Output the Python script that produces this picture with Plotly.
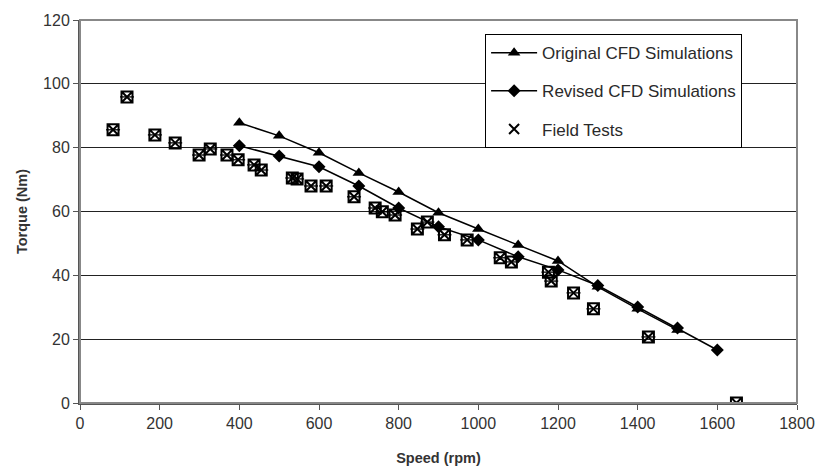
import plotly.graph_objects as go

orig_x = [400, 500, 600, 700, 800, 900, 1000, 1100, 1200, 1300, 1400, 1500]
orig_y = [87.8, 83.7, 78.4, 72.1, 66.1, 59.6, 54.5, 49.5, 44.5, 36.4, 29.5, 22.9]

rev_x = [400, 500, 600, 700, 800, 900, 1000, 1100, 1200, 1300, 1400, 1500, 1600]
rev_y = [80.6, 77.4, 74.0, 68.0, 61.1, 55.2, 51.1, 45.8, 41.7, 36.8, 30.1, 23.5, 16.6]

field_x = [83, 118, 188, 239, 299, 327, 369, 397, 437, 455, 533, 545, 580, 618, 688,
           741, 759, 791, 847, 872, 915, 972, 1055, 1083, 1176, 1183, 1239, 1289, 1427, 1648]
field_y = [85.6, 95.9, 84.0, 81.5, 77.7, 79.6, 77.7, 76.2, 74.6, 73.0, 70.5, 70.2, 68.0, 68.0, 64.6,
           61.1, 59.9, 58.9, 54.5, 56.7, 52.7, 51.1, 45.5, 44.2, 41.0, 38.2, 34.5, 29.5, 20.7, 0.0]

fig = go.Figure()
fig.add_trace(go.Scatter(x=orig_x, y=orig_y, mode="lines+markers", name="Original CFD Simulations",
                         legendgroup="a",
                         line=dict(color="black", width=1.5),
                         marker=dict(symbol="triangle-up", size=11, color="black")))
fig.add_trace(go.Scatter(x=rev_x, y=rev_y, mode="lines+markers", name="Revised CFD Simulations",
                         legendgroup="b",
                         line=dict(color="black", width=1.5),
                         marker=dict(symbol="diamond", size=10, color="black")))
fig.add_trace(go.Scatter(x=field_x, y=field_y, mode="markers", name="Field Tests", showlegend=False,
                         marker=dict(symbol="square-x-open", size=11, color="black",
                                     line=dict(color="black", width=2))))
fig.add_trace(go.Scatter(x=field_x, y=field_y, mode="markers", name="Field Tests", showlegend=False,
                         hoverinfo="skip",
                         marker=dict(symbol="line-ew-open", size=10, color="black",
                                     line=dict(color="black", width=1.3))))
fig.add_trace(go.Scatter(x=[None], y=[None], mode="markers", name="Field Tests", legendgroup="c",
                         marker=dict(symbol="x-thin-open", size=10, color="black",
                                     line=dict(color="black", width=2))))

fig.update_layout(
    width=816, height=467,
    margin=dict(l=80, r=19, t=20, b=64, autoexpand=False),
    paper_bgcolor="white", plot_bgcolor="white",
    font=dict(family="Liberation Sans, Arial, sans-serif", color="#333333", size=16),
    legend=dict(x=0.565, y=0.963, xanchor="left", yanchor="top",
                bordercolor="black", borderwidth=1, bgcolor="white",
                font=dict(size=17, color="#2a2a2a"), itemwidth=46,
                tracegroupgap=13, traceorder="grouped"),
    shapes=[dict(type="rect", xref="paper", yref="paper", x0=0, x1=1, y0=0, y1=1,
                 line=dict(color="#888888", width=2), fillcolor="rgba(0,0,0,0)", layer="above")],
)
fig.update_xaxes(range=[0, 1800], dtick=200, tick0=0, showgrid=False, zeroline=False,
                 showline=True, linecolor="#555555", linewidth=2,
                 ticks="outside", ticklen=5, tickcolor="#555555",
                 tickfont=dict(size=16, color="#333333"),
                 title=dict(text="<b>Speed (rpm)</b>", font=dict(size=14.5, color="#333333"), standoff=22))
fig.update_yaxes(range=[0, 120], dtick=20, tick0=0, showgrid=True, gridcolor="#222222", gridwidth=1,
                 zeroline=False, showline=True, linecolor="#555555", linewidth=2,
                 ticks="outside", ticklen=5, tickcolor="#555555",
                 tickfont=dict(size=16, color="#333333"),
                 title=dict(text="<b>Torque (Nm)</b>", font=dict(size=14.5, color="#333333"), standoff=12))

fig.write_html("out.html")
